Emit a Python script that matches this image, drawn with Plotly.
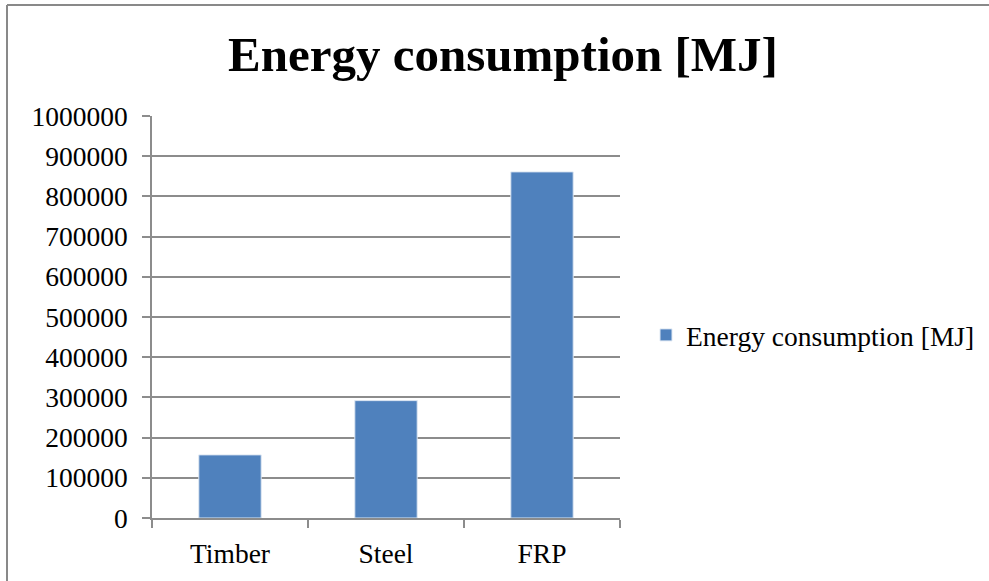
import plotly.graph_objects as go

categories = ["Timber", "Steel", "FRP"]
energy_mj = [157000, 292000, 861000]
series_name = "Energy consumption [MJ]"
y_ticks = [0, 100000, 200000, 300000, 400000, 500000, 600000, 700000, 800000, 900000, 1000000]
y_tick_labels = [str(v) for v in y_ticks]

W, H = 989, 581
PL, PR, PT, PB = 152, 620, 116, 518  # plot area in pixels
FONT = "Liberation Serif"
GRID = "#8c8c8c"

def px_x(px):
    return (px - PL) / (PR - PL)

def px_y(py):
    return (PB - py) / (PB - PT)

fig = go.Figure()
fig.add_trace(go.Bar(
    x=categories, y=energy_mj, name=series_name,
    marker=dict(color="#4F81BD", line=dict(color="#dfe8f3", width=1)),
    width=0.4, showlegend=True,
))

fig.update_layout(
    width=W, height=H,
    margin=dict(l=PL, r=W - PR, t=PT, b=H - PB, pad=0, autoexpand=False),
    paper_bgcolor="white", plot_bgcolor="white",
    font=dict(family=FONT, size=27.5, color="black"),
    title=dict(text="<b>Energy consumption [MJ]</b>", font=dict(family=FONT, size=49, color="black"),
               x=503 / W, xanchor="center", xref="container",
               y=1 - 54 / H, yanchor="middle", yref="container"),
    showlegend=True,
    legend=dict(x=px_x(646), y=px_y(335), xanchor="left", yanchor="middle",
                font=dict(family=FONT, size=27.5, color="black"),
                bgcolor="rgba(0,0,0,0)", borderwidth=0, itemwidth=30),
    xaxis=dict(
        showline=True, linecolor=GRID, linewidth=1.5,
        ticks="outside", ticklen=8, tickcolor=GRID, tickwidth=1.5,
        tickson="boundaries", showgrid=False,
        ticklabelstandoff=10,
    ),
    yaxis=dict(
        range=[0, 1000000], tickvals=y_ticks, ticktext=y_tick_labels,
        showline=True, linecolor=GRID, linewidth=1.5,
        ticks="outside", ticklen=8, tickcolor=GRID, tickwidth=1.5,
        showgrid=True, gridcolor=GRID, gridwidth=1.5,
        zeroline=False, ticklabelstandoff=9,
    ),
    shapes=[
        dict(type="line", xref="paper", yref="paper",
             x0=px_x(7), x1=px_x(W + 5), y0=px_y(5), y1=px_y(5),
             line=dict(color="#898989", width=2)),
        dict(type="line", xref="paper", yref="paper",
             x0=px_x(7), x1=px_x(7), y0=px_y(5), y1=px_y(H + 5),
             line=dict(color="#898989", width=2)),
    ],
)

fig.write_html("out.html")
